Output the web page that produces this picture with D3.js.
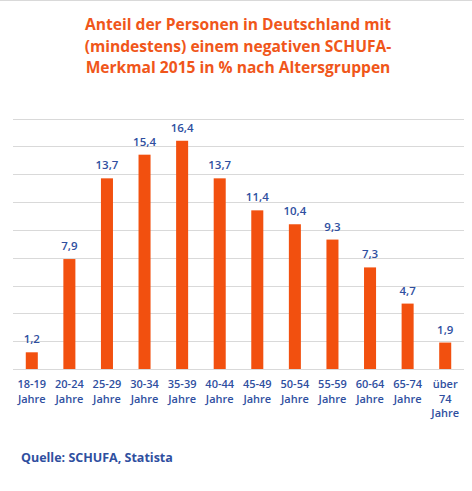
<!DOCTYPE html>
<html>
<head>
<meta charset="utf-8">
<script src="https://cdn.jsdelivr.net/npm/d3@7"></script>
<style>
  body { margin: 0; background: #fff; }
  text { font-family: "Open Sans", sans-serif; }
</style>
</head>
<body>
<div id="chart"></div>
<script>
const width = 472;
const height = 491;

const titleLines = [
  "Anteil der Personen in Deutschland mit",
  "(mindestens) einem negativen SCHUFA-",
  "Merkmal 2015 in % nach Altersgruppen"
];
const categories = [
  ["18-19", "Jahre"], ["20-24", "Jahre"], ["25-29", "Jahre"], ["30-34", "Jahre"],
  ["35-39", "Jahre"], ["40-44", "Jahre"], ["45-49", "Jahre"], ["50-54", "Jahre"],
  ["55-59", "Jahre"], ["60-64", "Jahre"], ["65-74", "Jahre"], ["über", "74", "Jahre"]
];
const values = [1.2, 7.9, 13.7, 15.4, 16.4, 13.7, 11.4, 10.4, 9.3, 7.3, 4.7, 1.9];
const gridTicks = [0, 2, 4, 6, 8, 10, 12, 14, 16, 18];
const source = "Quelle: SCHUFA, Statista";

const orange = "#f2500f";
const blue = "#2f4f9f";

const svg = d3.select("#chart")
  .append("svg")
  .attr("width", width)
  .attr("height", height);

// thin frame line at the top
svg.append("line")
  .attr("x1", 0).attr("x2", width)
  .attr("y1", 0.5).attr("y2", 0.5)
  .attr("stroke", "#d9d9d9");

svg.append("g")
  .selectAll("text")
  .data(titleLines)
  .enter()
  .append("text")
  .attr("x", 238)
  .attr("y", (d, i) => 30 + i * 21.7)
  .attr("text-anchor", "middle")
  .attr("font-size", 15.6)
  .attr("font-weight", "bold")
  .attr("fill", "#f0561a")
  .text(d => d);

const keys = categories.map(c => c.join(" "));

const xScale = d3.scaleBand()
  .domain(keys)
  .range([13, 464])
  .paddingInner(0.68)
  .paddingOuter(0.34);

const yScale = d3.scaleLinear()
  .domain([0, 18])
  .range([369, 118.5]);

// gridlines
svg.append("g")
  .selectAll("line")
  .data(gridTicks)
  .enter()
  .append("line")
  .attr("x1", 13)
  .attr("x2", 464)
  .attr("y1", d => Math.round(yScale(d)) + 0.5)
  .attr("y2", d => Math.round(yScale(d)) + 0.5)
  .attr("stroke", "#d9d9d9")
  .attr("stroke-width", 1.2);

svg.selectAll(".bar")
  .data(values)
  .enter()
  .append("rect")
  .attr("class", "bar")
  .attr("x", (d, i) => xScale(keys[i]))
  .attr("y", d => yScale(d))
  .attr("width", xScale.bandwidth())
  .attr("height", d => yScale(0) - yScale(d))
  .attr("fill", orange);

svg.selectAll(".value")
  .data(values)
  .enter()
  .append("text")
  .attr("class", "value")
  .attr("x", (d, i) => xScale(keys[i]) + xScale.bandwidth() / 2)
  .attr("y", d => yScale(d) - 9)
  .attr("text-anchor", "middle")
  .attr("font-size", 11.5)
  .attr("font-weight", 600)
  .attr("fill", blue)
  .text(d => d3.format(".1f")(d).replace(".", ","));

// category labels
const labels = svg.append("g")
  .selectAll("text")
  .data(categories)
  .enter()
  .append("text")
  .attr("text-anchor", "middle")
  .attr("font-size", 11)
  .attr("font-weight", 600)
  .attr("fill", blue)
  .attr("transform", (d, i) => `translate(${xScale(keys[i]) + xScale.bandwidth() / 2}, 388)`);

labels.selectAll("tspan")
  .data(d => d)
  .enter()
  .append("tspan")
  .attr("x", 0)
  .attr("y", (d, i) => i * 14.6)
  .text(d => d);

svg.append("text")
  .attr("x", 21)
  .attr("y", 462)
  .attr("font-size", 12.5)
  .attr("font-weight", "bold")
  .attr("fill", blue)
  .text(source);
</script>
</body>
</html>
